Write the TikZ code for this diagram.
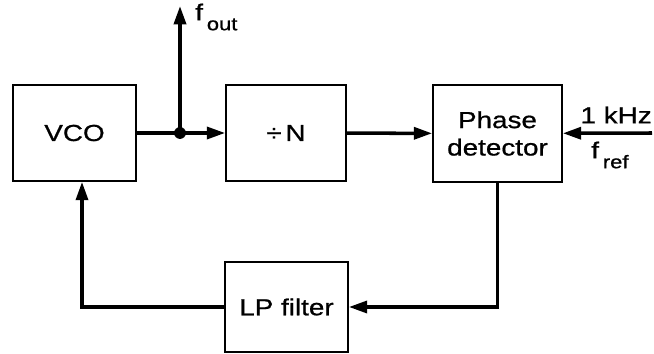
\documentclass[tikz,border=0pt]{standalone}
\usepackage{fontspec}
\setmainfont{Liberation Sans}[FakeStretch=1.2, FakeBold=0.8]
\usetikzlibrary{arrows.meta,positioning}

\tikzset{
  blockbox/.style={rectangle, draw, line width=1.2pt, align=center, inner sep=0pt},
  sigline/.style={line width=2.5pt},
  sigarrow/.style={sigline, -{Triangle[length=13pt,width=8.5pt]}}
}
\newcommand{\sublow}[1]{\raisebox{-0.8ex}{\fontsize{13}{15}\selectfont #1}}

\begin{document}
\begin{tikzpicture}[x=0.025cm, y=-0.025cm, every node/.style={font=\fontsize{16.5}{19.5}\selectfont}]
\useasboundingbox (0,0) rectangle (654,354);

\node[blockbox, minimum width=3.075cm, minimum height=2.4cm] (vco) at (74.5,133) {VCO};
\node[blockbox, minimum width=3cm, minimum height=2.4cm] (divn) at (286,133) {÷\,N};
\node[blockbox, minimum width=3.225cm, minimum height=2.425cm] (phase) at (497.5,133.5) {Phase\\detector};
\node[blockbox, minimum width=3.075cm, minimum height=2.25cm] (lpf) at (286.5,307) {LP filter};

\coordinate (tap) at (180,133);
\coordinate (fout) at (180,6);
\coordinate (refin) at (652,133);
\coordinate (vcoin) at (82,0);

\draw[sigline] (vco) -- (tap);
\draw[sigarrow] (tap) -- (divn);
\draw[sigarrow] (tap) -- (fout);
\fill (tap) circle (4.2pt);
\draw[sigarrow] (divn) -- (phase);
\draw[sigarrow] (refin) -- (phase);
\draw[sigarrow] (phase.south) |- (lpf.east);
\draw[sigarrow] (lpf.west) -| (vco.south -| vcoin);

\node[anchor=west, inner sep=0pt] (foutlabel) at (195,17) {f\,\sublow{out}};
\node[anchor=east, inner sep=0pt] (khz) at (652,115) {1 kHz};
\node[anchor=west, inner sep=0pt] (freflabel) at (591,155) {f\,\sublow{ref}};

\end{tikzpicture}
\end{document}
